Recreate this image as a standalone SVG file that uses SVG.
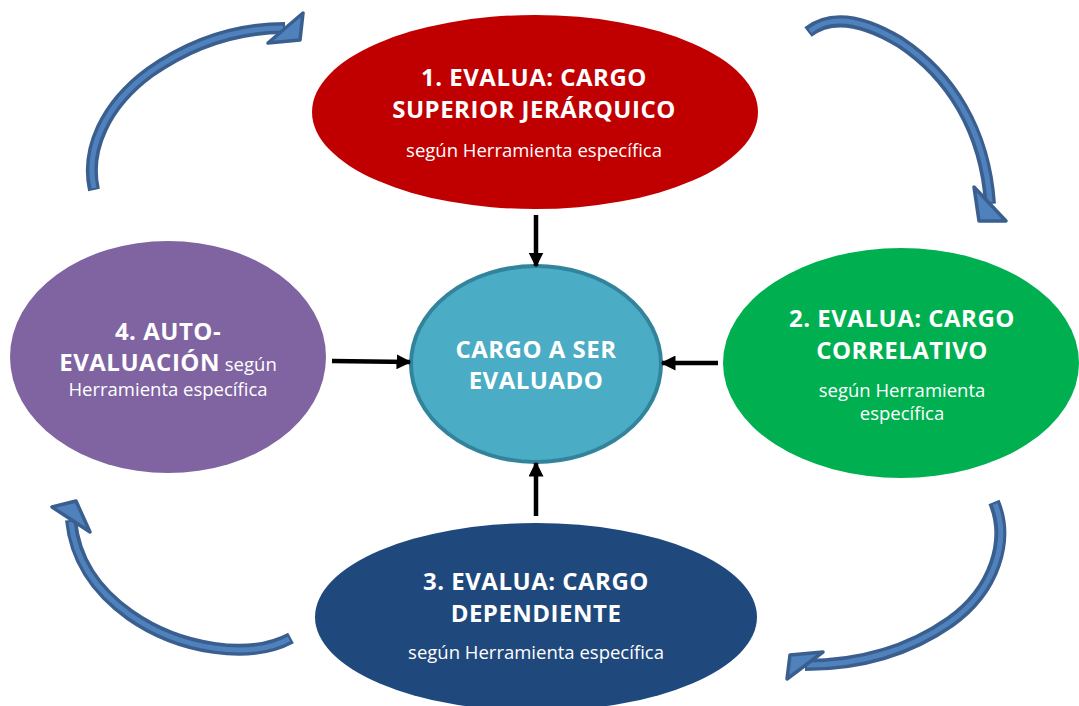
<svg xmlns="http://www.w3.org/2000/svg" width="1079" height="706" viewBox="0 0 1079 706">
<style>
.t{font-family:"Open Sans","Liberation Sans",sans-serif;fill:#fff;text-anchor:middle}
.b{font-weight:bold;font-size:24px;letter-spacing:0.5px}
.s{font-size:18.5px;font-weight:normal;letter-spacing:0}
.body-o{fill:none;stroke:#3a5f8f;stroke-width:12;stroke-linecap:butt}
.body-i{fill:none;stroke:#4f81bd;stroke-width:5;stroke-linecap:butt}
.head{fill:#4f81bd;stroke:#3a5f8f;stroke-width:3.5;stroke-linejoin:round}
.conn{stroke:#000;stroke-width:4.5;fill:none}
</style>
<defs>
<marker id="ah" viewBox="0 0 10 10" refX="9" refY="5" markerUnits="userSpaceOnUse" markerWidth="15" markerHeight="15" orient="auto">
<path d="M0,0 L10,5 L0,10 z" fill="#000"/>
</marker>
</defs>
<rect width="1079" height="706" fill="#fff"/>

<g id="n1">
<ellipse cx="535" cy="112" rx="223" ry="97" fill="#c00000"/>
<text class="t b" x="534" y="86">1. EVALUA: CARGO</text>
<text class="t b" x="534" y="118">SUPERIOR JERÁRQUICO</text>
<text class="t s" x="534" y="157">según Herramienta específica</text>
</g>

<g id="n4">
<ellipse cx="168" cy="357" rx="158" ry="116" fill="#8064a2"/>
<text class="t b" x="168" y="340">4. AUTO-</text>
<text class="t" x="168" y="371"><tspan class="b">EVALUACIÓN</tspan><tspan class="s"> según</tspan></text>
<text class="t s" x="168" y="396">Herramienta específica</text>
</g>

<g id="n0">
<ellipse cx="536" cy="364" rx="125" ry="98" fill="#4bacc6" stroke="#31849b" stroke-width="4"/>
<text class="t b" x="536" y="358">CARGO A SER</text>
<text class="t b" x="536" y="389">EVALUADO</text>
</g>

<g id="n2">
<ellipse cx="901" cy="363" rx="178" ry="115" fill="#00b050"/>
<text class="t b" x="902" y="327">2. EVALUA: CARGO</text>
<text class="t b" x="902" y="359">CORRELATIVO</text>
<text class="t s" x="902" y="397">según Herramienta</text>
<text class="t s" x="902" y="420">específica</text>
</g>

<g id="n3">
<ellipse cx="536" cy="617" rx="221" ry="94" fill="#1f497d"/>
<text class="t b" x="536" y="590">3. EVALUA: CARGO</text>
<text class="t b" x="536" y="622">DEPENDIENTE</text>
<text class="t s" x="536" y="659">según Herramienta específica</text>
</g>

<g id="connectors">
<line class="conn" x1="536" y1="215" x2="536" y2="266" marker-end="url(#ah)"/>
<line class="conn" x1="332" y1="361" x2="410" y2="362" marker-end="url(#ah)"/>
<line class="conn" x1="718" y1="363" x2="662" y2="363" marker-end="url(#ah)"/>
<line class="conn" x1="536" y1="516" x2="536" y2="463" marker-end="url(#ah)"/>

<g id="cycle-tl">
<path class="body-o" d="M94,190 C85,150 105,105 150,72 C190,44 235,28 285,28"/>
<path class="body-i" d="M94,188 C85,150 105,105 150,72 C190,44 235,28 283,28"/>
<polygon class="head" points="268,43 303,13 300,40"/>
</g>
<g id="cycle-tr">
<path class="body-o" d="M808,32 C830,15 860,18 900,42 C950,75 985,130 990,204"/>
<path class="body-i" d="M810,31 C830,15 860,18 900,42 C950,75 985,130 990,202"/>
<polygon class="head" points="974,187 979,221 1006,221"/>
</g>
<g id="cycle-bl">
<path class="body-o" d="M291,638 C250,660 180,650 130,615 C95,590 75,560 71,520"/>
<path class="body-i" d="M289,639 C250,660 180,650 130,615 C95,590 75,560 71,522"/>
<polygon class="head" points="52,507 76,501 90,532"/>
</g>
<g id="cycle-br">
<path class="body-o" d="M994,502 C1010,540 995,590 950,622 C910,650 860,665 805,665"/>
<path class="body-i" d="M995,504 C1010,540 995,590 950,622 C910,650 860,665 807,665"/>
<polygon class="head" points="823,652 790,655 787,679"/>
</g>
</g>
</svg>
